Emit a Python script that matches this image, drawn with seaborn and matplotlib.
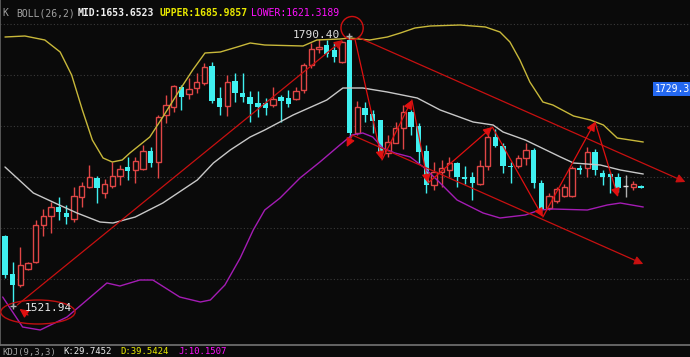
import numpy as np
import pandas as pd
import matplotlib
matplotlib.use("Agg")
import matplotlib.pyplot as plt
from matplotlib.patches import Ellipse
import seaborn as sns

# ---- candle data (open, close, high, low), one per bar ----
opens = [1592, 1554, 1543, 1559, 1566, 1603, 1612, 1621, 1615, 1609,
         1631, 1641, 1650, 1635, 1642, 1652, 1661, 1658, 1659, 1677,
         1666, 1713, 1721, 1741, 1734, 1740, 1745, 1762, 1730, 1722,
         1747, 1735, 1731, 1725, 1725, 1723, 1731, 1730, 1729, 1738,
         1763, 1779, 1783, 1778, 1766, 1788, 1695, 1720, 1714, 1708,
         1675, 1685, 1700, 1716, 1702, 1677, 1643, 1656, 1658, 1665,
         1651, 1651, 1644, 1662, 1691, 1682, 1662, 1662, 1670, 1678,
         1645, 1620, 1627, 1632, 1632, 1660, 1660, 1676, 1655, 1654,
         1651, 1642, 1641, 1642]
closes = [1553, 1543, 1563, 1565, 1603, 1612, 1621, 1616, 1611, 1632,
          1642, 1651, 1640, 1644, 1652, 1659, 1657, 1667, 1677, 1665,
          1711, 1723, 1742, 1731, 1739, 1746, 1761, 1727, 1721, 1746,
          1735, 1731, 1724, 1721, 1720, 1729, 1727, 1724, 1737, 1763,
          1779, 1781, 1774, 1771, 1786, 1695, 1721, 1713, 1707, 1675,
          1686, 1700, 1716, 1701, 1676, 1643, 1656, 1660, 1665, 1651,
          1649, 1645, 1662, 1691, 1682, 1662, 1661, 1670, 1678, 1645,
          1618, 1632, 1639, 1641, 1660, 1658, 1676, 1658, 1651, 1651,
          1640, 1642, 1644, 1640]
highs = [1593, 1566, 1581, 1566, 1608, 1619, 1626, 1631, 1623, 1641,
         1646, 1663, 1652, 1649, 1666, 1663, 1671, 1671, 1683, 1681,
         1713, 1733, 1743, 1743, 1750, 1755, 1765, 1766, 1741, 1753,
         1755, 1755, 1737, 1737, 1730, 1741, 1733, 1738, 1741, 1765,
         1785, 1789, 1788, 1785, 1787, 1790.4, 1727, 1726, 1718, 1708,
         1693, 1706, 1723, 1718, 1705, 1683, 1666, 1668, 1671, 1666,
         1662, 1656, 1668, 1695, 1699, 1685, 1666, 1673, 1685, 1680,
         1648, 1635, 1641, 1644, 1662, 1663, 1681, 1679, 1658, 1656,
         1655, 1653, 1647, 1643]
lows = [1550, 1521.94, 1541, 1558, 1565, 1592, 1595, 1608, 1604, 1606,
        1621, 1640, 1625, 1630, 1640, 1643, 1648, 1645, 1658, 1661,
        1650, 1705, 1716, 1718, 1729, 1735, 1743, 1725, 1713, 1712,
        1726, 1726, 1706, 1711, 1713, 1721, 1706, 1721, 1728, 1735,
        1760, 1775, 1771, 1766, 1765, 1691, 1693, 1706, 1695, 1673,
        1671, 1685, 1679, 1693, 1665, 1635, 1638, 1641, 1651, 1641,
        1644, 1628, 1643, 1658, 1681, 1655, 1645, 1660, 1663, 1640,
        1616, 1618, 1625, 1631, 1631, 1654, 1651, 1653, 1643, 1635,
        1636, 1631, 1638, 1640]

# ---- BOLL(26,2) lines (bar index, price) ----
upper_x = [0.0, 2.6, 5.2, 7.2, 8.7, 10.1, 11.4, 12.8, 14.0, 15.3, 16.3, 18.9,
           20.6, 22.8, 24.5, 26.1, 28.1, 30.3, 32.0, 33.9, 38.9, 40.7, 43.7,
           45.0, 47.6, 49.9, 51.6, 53.5, 55.5, 59.4, 62.7, 64.6, 65.9, 67.2,
           68.5, 70.2, 71.5, 74.2, 76.4, 78.1, 79.9, 83.3]
upper_p = [1791, 1792, 1788, 1776, 1753, 1718, 1688, 1670, 1666, 1668, 1675,
           1691, 1711, 1738, 1758, 1775, 1776, 1781, 1785, 1783, 1782, 1788,
           1789, 1790, 1788, 1791, 1795, 1800, 1802, 1803, 1801, 1796, 1786,
           1768, 1746, 1726, 1723, 1712, 1708, 1703, 1690, 1686]
mid_x = [0.0, 3.7, 6.8, 9.4, 12.4, 14.1, 17.0, 20.6, 25.1, 27.2, 29.4, 32.0,
         33.9, 37.6, 42.0, 44.1, 46.7, 49.9, 53.8, 56.8, 61.1, 63.7, 65.0,
         67.9, 69.8, 72.5, 74.2, 77.7, 80.3, 83.3]
mid_p = [1661, 1635, 1624, 1615, 1606, 1605, 1611, 1625, 1648, 1665, 1678,
         1691, 1698, 1713, 1728, 1740, 1740, 1736, 1730, 1718, 1706, 1703,
         1696, 1688, 1681, 1671, 1665, 1663, 1658, 1654]
lower_x = [-0.3, 2.3, 4.6, 8.1, 10.7, 13.3, 15.0, 17.6, 19.3, 22.8, 25.5,
           26.8, 28.7, 30.7, 32.4, 33.9, 35.9, 38.5, 41.1, 43.7, 45.3, 46.7,
           48.0, 49.3, 50.9, 52.9, 54.6, 56.4, 59.0, 62.4, 64.6, 67.9, 69.8,
           71.5, 76.0, 78.6, 80.3, 83.3]
lower_p = [1531, 1501, 1498, 1511, 1528, 1545, 1542, 1548, 1548, 1531, 1526,
           1528, 1543, 1570, 1598, 1618, 1630, 1650, 1666, 1683, 1693, 1695,
           1691, 1680, 1675, 1671, 1661, 1648, 1628, 1615, 1610, 1613, 1618,
           1619, 1618, 1623, 1625, 1621]

# ---- drawn annotations (bar index, price) ----
trend_up = [(1.6, 1523), (44.1, 1788)]
chan_top = [(46.3, 1790), (88.8, 1646)]
chan_bot = [(45.3, 1693), (83.3, 1564)]
zigzag_x = [45.7, 49.2, 53.1, 55.2, 63.6, 70.2, 77.0, 80.0]
zigzag_p = [1788, 1668, 1728, 1645, 1701, 1611, 1706, 1631]
grid_levels = [1804, 1753, 1702, 1651, 1600, 1549]

BG = "#0a0a0a"
RED = "#e04646"
CYAN = "#3ff0f0"
LINE_RED = "#c81010"

sns.set_theme(style="dark", rc={"axes.facecolor": BG, "figure.facecolor": BG})
plt.rcParams["font.family"] = ["DejaVu Sans Mono"]

fig = plt.figure(figsize=(6.9, 3.57), dpi=100)
ax = fig.add_axes([0, 12 / 357, 1, 345 / 357])
ax.set_xlim(-0.65, 89.4)
ax.set_ylim(1483, 1828)

for g in grid_levels:
    ax.axhline(g, color="#3a3a3a", lw=0.8, ls=(0, (1, 2)), zorder=0)

# candles
idx = np.arange(len(opens))
df = pd.DataFrame({"i": idx, "o": opens, "c": closes, "h": highs, "l": lows})
up = df[df.c > df.o]
dn = df[df.c < df.o]
dj = df[df.c == df.o]
ax.vlines(up.i, up.l, up.h, color=RED, lw=1, zorder=2)
ax.bar(up.i, up.c - up.o, bottom=up.o, width=0.7, facecolor=BG,
       edgecolor=RED, lw=1, zorder=3)
ax.vlines(dn.i, dn.l, dn.h, color=CYAN, lw=1, zorder=2)
ax.bar(dn.i, dn.c - dn.o, bottom=dn.o, width=0.7, color=CYAN, lw=0, zorder=3)
ax.vlines(dj.i, dj.l, dj.h, color="#b0b0b0", lw=1, zorder=2)
ax.hlines(dj.o, dj.i - 0.35, dj.i + 0.35, color="#e0e0e0", lw=1, zorder=3)

# bollinger lines
sns.lineplot(x=upper_x, y=upper_p, ax=ax, color="#c8b83a", lw=1, zorder=4)
sns.lineplot(x=mid_x, y=mid_p, ax=ax, color="#c8c8c8", lw=1, zorder=4)
sns.lineplot(x=lower_x, y=lower_p, ax=ax, color="#a41cb4", lw=1, zorder=4)

# annotations
arrow = dict(arrowstyle="-|>", color=LINE_RED, lw=0.9, mutation_scale=13,
             shrinkA=0, shrinkB=0)
for a, b in [trend_up, chan_top, chan_bot]:
    ax.annotate("", xy=b, xytext=a, arrowprops=arrow, zorder=5)
zz = dict(arrow, color="#e01010")
for k in range(len(zigzag_x) - 1):
    ax.annotate("", xy=(zigzag_x[k + 1], zigzag_p[k + 1]),
                xytext=(zigzag_x[k], zigzag_p[k]), arrowprops=zz, zorder=5)
ax.annotate("", xy=(44.6, 1681), xytext=(45.3, 1692), arrowprops=zz, zorder=5)
ax.annotate("", xy=(1.9, 1519), xytext=(3.0, 1513), arrowprops=zz, zorder=5)

ax.add_patch(Ellipse((45.3, 1800), 2.9, 23, fill=False, ec="#d01010", lw=1, zorder=5))
ax.add_patch(Ellipse((4.3, 1516), 9.7, 24, fill=False, ec="#c01010", lw=1, zorder=5))

ax.plot([1.1, 44.9], [1521.94, 1792], ls="none", marker="+", ms=5,
        color="#b0b0b0", zorder=6)
ax.text(2.6, 1520, "1521.94", color="#e8e8e8", fontsize=8, va="center", zorder=6)
ax.text(37.5, 1793, "1790.40", color="#e0e0e0", fontsize=8, va="center", zorder=6)

ax.set_xticks([])
ax.set_yticks([])
ax.set_xlabel("")
ax.set_ylabel("")
for s in ["top", "right"]:
    ax.spines[s].set_visible(False)
ax.spines["bottom"].set_color("#707070")
ax.spines["left"].set_color("#606060")

# header and footer texts
hy = (357 - 13) / 357
fig.text(2 / 690, hy, "K", color="#a0a0a0", fontsize=7, va="center")
fig.text(16 / 690, hy, "BOLL(26,2)", color="#a0a0a0", fontsize=7, va="center")
fig.text(78 / 690, hy, "MID:1653.6523", color="#f0f0f0", fontsize=7,
         fontweight="bold", va="center")
fig.text(159 / 690, hy, "UPPER:1685.9857", color="#e8e800", fontsize=7,
         fontweight="bold", va="center")
fig.text(251 / 690, hy, "LOWER:1621.3189", color="#ff10ff", fontsize=7, va="center")

fy = (357 - 352) / 357
fig.text(2 / 690, fy, "KDJ(9,3,3)", color="#a0a0a0", fontsize=6.5, va="center")
fig.text(63 / 690, fy, "K:29.7452", color="#e8e8e8", fontsize=6.5, va="center")
fig.text(120 / 690, fy, "D:39.5424", color="#e8e800", fontsize=6.5, va="center")
fig.text(178 / 690, fy, "J:10.1507", color="#ff10ff", fontsize=6.5, va="center")

fig.text(655 / 690, (357 - 89) / 357, "1729.3", color="white", fontsize=7,
         va="center", bbox=dict(boxstyle="square,pad=0.2", fc="#2468f0", ec="none"))

fig.savefig("out.png", dpi=100, facecolor=BG)
